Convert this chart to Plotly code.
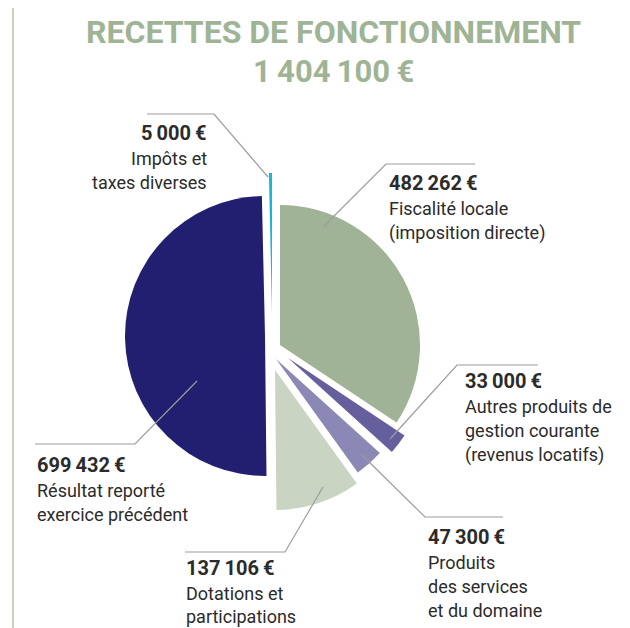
import plotly.graph_objects as go

# ---------------- data ----------------
categories = [
    "Fiscalité locale (imposition directe)",
    "Autres produits de gestion courante (revenus locatifs)",
    "Produits des services et du domaine",
    "Dotations et participations",
    "Résultat reporté exercice précédent",
    "Impôts et taxes diverses",
]
values = [482262, 33000, 47300, 137106, 699432, 5000]
label_lines = [
    ["Fiscalité locale", "(imposition directe)"],
    ["Autres produits de", "gestion courante", "(revenus locatifs)"],
    ["Produits", "des services", "et du domaine"],
    ["Dotations et", "participations"],
    ["Résultat reporté", "exercice précédent"],
    ["Impôts et", "taxes diverses"],
]
title_text = "RECETTES DE FONCTIONNEMENT"

# ---------------- styles / layout ----------------
W, H = 630, 628
OX, OY = 8, 8  # page body margin compensation
colors = ["#a0b396", "#655f9d", "#8b88b5", "#c9d4c3", "#231f70", "#1ab6d6"]
TITLE_COLOR = "#9fb495"
TEXT_COLOR = "#2b2b2b"
LEADER_COLOR = "#9c9c9c"
R = 140  # slice radius in px
# apex (px, page coords) of each exploded slice
apex = [(280, 345), (288, 358), (276, 359), (275, 370), (265, 336), (272, 313)]
# label block: (x px, anchor, first-line centre y px, line pitch)
label_pos = [
    (387, "left", 183, 24),
    (463, "left", 381, 24),
    (426, "left", 537, 24),
    (184, "left", 568, 23),
    (35, "left", 465, 24),
    (209, "right", 133, 24),
]
leaders = [
    [(475, 164), (386, 164), (323, 227)],
    [(538, 365), (457, 365), (390, 439)],
    [(503, 517), (425, 517), (362, 455)],
    [(185, 552), (285, 552), (323, 487)],
    [(35, 444), (135, 444), (197, 381)],
    [(147, 114), (214, 114), (268, 177)],
]


def px(x):
    return (x - OX) / W


def py(y):
    return 1 - (y - OY) / H


def fmt(v):
    return f"{v:,}".replace(",", "\u2009") + "\u2009€"


fig = go.Figure()

for i in range(len(values)):
    cols = ["rgba(0,0,0,0)"] * len(values)
    cols[i] = colors[i]
    ax, ay = apex[i]
    fig.add_trace(go.Pie(
        labels=categories,
        values=values,
        sort=False,
        direction="clockwise",
        rotation=0,
        marker=dict(colors=cols, line=dict(width=0)),
        textinfo="none",
        hoverinfo="skip",
        showlegend=False,
        domain=dict(x=[px(ax - R), px(ax + R)], y=[py(ay + R), py(ay - R)]),
    ))

annotations = []
# title
annotations.append(dict(x=px(333), y=py(32), xref="paper", yref="paper",
                        text=f"<b>{title_text}</b>", showarrow=False,
                        xanchor="center", yanchor="middle",
                        font=dict(family="Roboto", size=32, color=TITLE_COLOR)))
annotations.append(dict(x=px(333), y=py(72), xref="paper", yref="paper",
                        text=f"<b>{fmt(sum(values))}</b>", showarrow=False,
                        xanchor="center", yanchor="middle",
                        font=dict(family="Roboto", size=31, color=TITLE_COLOR)))

for i, v in enumerate(values):
    x, anchor, y0, pitch = label_pos[i]
    annotations.append(dict(x=px(x), y=py(y0), xref="paper", yref="paper",
                            text=f"<b>{fmt(v)}</b>", showarrow=False,
                            xanchor=anchor, yanchor="middle",
                            font=dict(family="Roboto", size=20, color=TEXT_COLOR)))
    for j, line in enumerate(label_lines[i]):
        annotations.append(dict(x=px(x), y=py(y0 + 25.5 + pitch * j), xref="paper", yref="paper",
                                text=line, showarrow=False,
                                xanchor=anchor, yanchor="middle",
                                font=dict(family="Roboto", size=18, color=TEXT_COLOR)))

shapes = [dict(type="line", xref="paper", yref="paper", x0=px(13), x1=px(13), y0=0, y1=1,
               line=dict(color="#c8d2c0", width=2))]
for pts in leaders:
    path = "M " + " L ".join(f"{px(x)},{py(y)}" for x, y in pts)
    shapes.append(dict(type="path", xref="paper", yref="paper", path=path,
                       line=dict(color=LEADER_COLOR, width=1.2)))

fig.update_layout(
    width=W, height=H,
    margin=dict(l=0, r=0, t=0, b=0),
    paper_bgcolor="white",
    plot_bgcolor="white",
    annotations=annotations,
    shapes=shapes,
    showlegend=False,
)

fig.write_html("out.html")
